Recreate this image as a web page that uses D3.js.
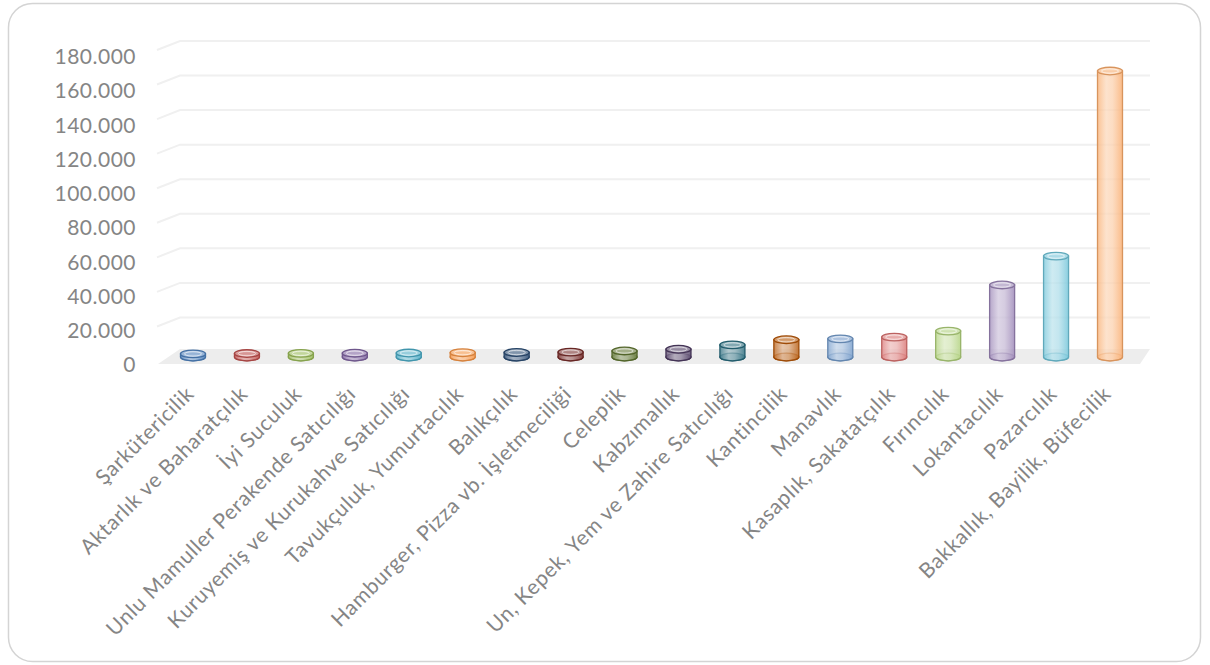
<!DOCTYPE html>
<html>
<head>
<meta charset="utf-8">
<script src="https://cdn.jsdelivr.net/npm/d3@7"></script>
<style>
  html, body { margin: 0; padding: 0; background: #ffffff; }
  svg { display: block; }
  text { font-family: Lato, "Open Sans", sans-serif; }
</style>
</head>
<body>
<svg id="chart" width="1210" height="665"></svg>
<script>
const categories = [
  "Şarkütericilik", "Aktarlık ve Baharatçılık", "İyi Suculuk",
  "Unlu Mamuller Perakende Satıcılığı", "Kuruyemiş ve Kurukahve Satıcılığı",
  "Tavukçuluk, Yumurtacılık", "Balıkçılık", "Hamburger, Pizza vb. İşletmeciliği",
  "Celeplik", "Kabzımallık", "Un, Kepek, Yem ve Zahire Satıcılığı",
  "Kantincilik", "Manavlık", "Kasaplık, Sakatatçılık", "Fırıncılık",
  "Lokantacılık", "Pazarcılık", "Bakkallık, Bayilik, Büfecilik"
];
const values = [1800, 2000, 2100, 2200, 2300, 2500, 2600, 2800, 3500, 4500, 7000,
  10000, 10500, 11500, 15000, 41700, 58400, 165500];
const colors = ["#4F81BD", "#C0504D", "#9BBB59", "#8064A2", "#4BACC6", "#F79646",
  "#2C4D75", "#772C2A", "#5F7530", "#4D3B62", "#276A7C", "#B65708",
  "#729ACA", "#D9716F", "#AFD07A", "#9983B5", "#6FC3D8", "#F9AB6B"];
const yTicks = [0, 20000, 40000, 60000, 80000, 100000, 120000, 140000, 160000, 180000];
const tickLabels = ["0", "20.000", "40.000", "60.000", "80.000", "100.000",
  "120.000", "140.000", "160.000", "180.000"];

const svg = d3.select("#chart");

// card
svg.append("rect")
  .attr("x", 8.5).attr("y", 3.5).attr("width", 1192).attr("height", 658)
  .attr("rx", 24).attr("ry", 24)
  .attr("fill", "#ffffff").attr("stroke", "#d4d4d4").attr("stroke-width", 1.5);

// scales
const x = d3.scalePoint().domain(categories).range([193, 1110]);
const yGrid = d3.scaleLinear().domain([0, 180000]).range([352, 41]);   // back wall
const yLabel = d3.scaleLinear().domain([0, 180000]).range([365, 57]);  // axis labels
const barBase = 357;
const yBar = d3.scaleLinear().domain([0, 180000]).range([barBase, barBase - 311]);

// floor
const floorPts = [[180, 349], [1150, 349], [1140, 364], [158, 364]];
svg.append("polygon")
  .attr("points", floorPts.map(p => p.join(",")).join(" "))
  .attr("fill", "#ededed");

// gridlines (3D: side wall slant + back wall)
const grid = svg.append("g").attr("class", "grid");
yTicks.forEach(t => {
  if (t === 0) return;
  const gy = yGrid(t);
  grid.append("path")
    .attr("d", `M157,${gy + 9} L180,${gy} L1150,${gy}`)
    .attr("fill", "none").attr("stroke", "#f0f0f0").attr("stroke-width", 2);
});

// y axis labels
const yAxis = d3.axisLeft(yLabel)
  .tickValues(yTicks)
  .tickFormat((d, i) => tickLabels[i])
  .tickSize(0).tickPadding(0);
const yg = svg.append("g").attr("transform", "translate(136,0)").call(yAxis);
yg.select(".domain").remove();
yg.selectAll("text")
  .style("font-family", "Lato, 'Open Sans', sans-serif")
  .style("font-size", "21px").style("letter-spacing", "0.5px")
  .attr("fill", "#858585");

// x axis labels
const xAxis = d3.axisBottom(x).tickSize(0).tickPadding(0);
const xg = svg.append("g").call(xAxis);
xg.select(".domain").remove();
xg.selectAll(".tick").attr("transform", d => `translate(${x(d) - 3},390)`);
xg.selectAll("text")
  .attr("y", 0).attr("x", 0).attr("dy", "0.35em")
  .attr("transform", "rotate(-45)")
  .style("text-anchor", "end")
  .style("font-family", "Lato, 'Open Sans', sans-serif")
  .style("font-size", "21px").style("letter-spacing", "0.7px")
  .attr("fill", "#858585");

// gradients
const defs = svg.append("defs");
colors.forEach((c, i) => {
  const g = defs.append("linearGradient").attr("id", "cyl" + i)
    .attr("x1", "0").attr("x2", "1").attr("y1", "0").attr("y2", "0");
  const light = d3.interpolateRgb(c, "#ffffff");
  g.append("stop").attr("offset", "0%").attr("stop-color", light(0.15)).attr("stop-opacity", 0.85);
  g.append("stop").attr("offset", "35%").attr("stop-color", light(0.55)).attr("stop-opacity", 0.75);
  g.append("stop").attr("offset", "60%").attr("stop-color", light(0.45)).attr("stop-opacity", 0.75);
  g.append("stop").attr("offset", "100%").attr("stop-color", light(0.1)).attr("stop-opacity", 0.9);
});

// cylinders
const rx = 12.5, ry = 3.8;
const bars = svg.append("g").selectAll("g").data(categories).join("g");
bars.each(function(d, i) {
  const g = d3.select(this);
  const cx = x(d);
  const top = yBar(values[i]);
  const c = colors[i];
  const stroke = d3.color(c).darker(0.4).formatHex();
  g.append("ellipse").attr("cx", cx).attr("cy", barBase).attr("rx", rx).attr("ry", ry)
    .attr("fill", `url(#cyl${i})`).attr("stroke", stroke).attr("stroke-width", 1.3);
  g.append("path")
    .attr("d", `M${cx - rx},${top} L${cx - rx},${barBase} A${rx},${ry} 0 0 0 ${cx + rx},${barBase} L${cx + rx},${top} Z`)
    .attr("fill", `url(#cyl${i})`).attr("stroke", stroke).attr("stroke-width", 1.3);
  g.append("ellipse").attr("cx", cx).attr("cy", top).attr("rx", rx).attr("ry", ry)
    .attr("fill", d3.interpolateRgb(c, "#ffffff")(0.45)).attr("fill-opacity", 0.9)
    .attr("stroke", stroke).attr("stroke-width", 1.3);
  g.append("ellipse").attr("cx", cx).attr("cy", top).attr("rx", rx - 4).attr("ry", ry - 1.6)
    .attr("fill", "none").attr("stroke", "#ffffff").attr("stroke-opacity", 0.6).attr("stroke-width", 1);
});
</script>
</body>
</html>
